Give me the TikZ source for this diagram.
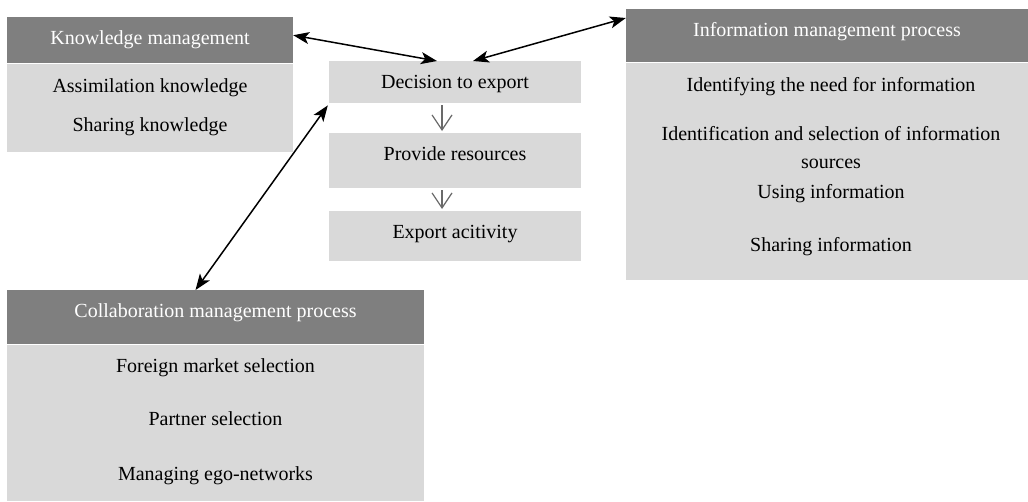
\documentclass[tikz,border=0pt]{standalone}
\usepackage{fontspec}
\setmainfont{Liberation Serif}
\usetikzlibrary{arrows.meta,positioning}
\definecolor{headgray}{HTML}{7F7F7F}
\definecolor{bodygray}{HTML}{D9D9D9}
\definecolor{flowgray}{HTML}{6A6A6A}
\tikzset{
  boxtext/.style={font=\fontsize{20}{24}\selectfont},
  headbox/.style={boxtext,rectangle,fill=headgray,text=white,anchor=north,
                  inner sep=0pt,text height=27pt},
  bodybox/.style={rectangle,fill=bodygray,inner sep=0pt},
  stepbox/.style={boxtext,rectangle,fill=bodygray,anchor=north,inner sep=0pt,
                  text height=27pt,minimum width=252pt},
  item/.style={boxtext,inner sep=0pt,text height=14pt,text depth=5pt},
  link/.style={{Stealth[length=16pt,width=12pt,inset=4pt]}-{Stealth[length=16pt,width=12pt,inset=4pt]},
               line width=1.5pt},
  flow/.style={-{Straight Barb[length=15pt,width=20pt]},draw=flowgray,line width=1.2pt,
               shorten <=2pt,shorten >=2pt}
}

\begin{document}
\begin{tikzpicture}[x=1pt,y=-1pt]
      \path[fill=white] (0,0) rectangle (1028,501);
      \useasboundingbox (0,0) rectangle (1028,501);

      \node[headbox,minimum width=286pt,text depth=19pt]  (knowHead)  at (150,17)   {Knowledge management};
      \node[bodybox,minimum width=286pt,minimum height=88pt]
                                      (knowBody)  [below=0pt of knowHead]        {};
      \node[item,anchor=base]         (assim)     at (150,92)   {Assimilation knowledge};
      \node[item]                     (shareKnow) [below of=assim, node distance=39pt] {Sharing knowledge};

      \node[stepbox,text depth=15pt]  (decision)  at (455,61)   {Decision to export};
      \node[stepbox,text depth=28pt]  (resources) at (455,133)  {Provide resources};
      \node[stepbox,text depth=23pt]  (activity)  at (455,211)  {Export acitivity};

      \node[headbox,minimum width=402pt,text depth=26pt]  (infoHead)  at (827,9)    {Information management process};
      \node[bodybox,minimum width=402pt,minimum height=217pt]
                                      (infoBody)  [below=0pt of infoHead]        {};
      \node[item,anchor=base]         (needInfo)  at (831,91)   {Identifying the need for information};
      % base of a two-line node sits on its last line
      \node[boxtext,align=center,inner sep=0pt,anchor=base]
                                      (sources)   at (831,168)  {Identification and selection of information\\[4pt]sources};
      \node[item,anchor=base]         (useInfo)   at (831,198)  {Using information};
      \node[item]                     (shareInfo) [below of=useInfo, node distance=53pt] {Sharing information};

      \node[headbox,minimum width=417pt,text depth=27pt]  (collabHead) at (215.5,290) {Collaboration management process};
      \node[bodybox,minimum width=417pt,minimum height=156pt]
                                      (collabBody) [below=0pt of collabHead]     {};
      \node[item,anchor=base]         (market)    at (215.5,372) {Foreign market selection};
      \node[item]                     (partner)   [below of=market, node distance=53pt]  {Partner selection};
      \node[item]                     (egoNet)    [below of=partner, node distance=55pt] {Managing ego-networks};

      \draw[flow] ([xshift=-13pt]decision.south)  -- ([xshift=-13pt]resources.north);
      \draw[flow] ([xshift=-13pt]resources.south) -- ([xshift=-13pt]activity.north);

      \draw[link] ([yshift=5pt]knowHead.east)  -- ([xshift=-18pt]decision.north);
      \draw[link] ([xshift=18pt]decision.north) -- ([yshift=-9pt]infoHead.north west);
      \draw[link] ([xshift=-1pt,yshift=-2pt]decision.south west) -- ([xshift=-20pt]collabHead.north);
\end{tikzpicture}
\end{document}
